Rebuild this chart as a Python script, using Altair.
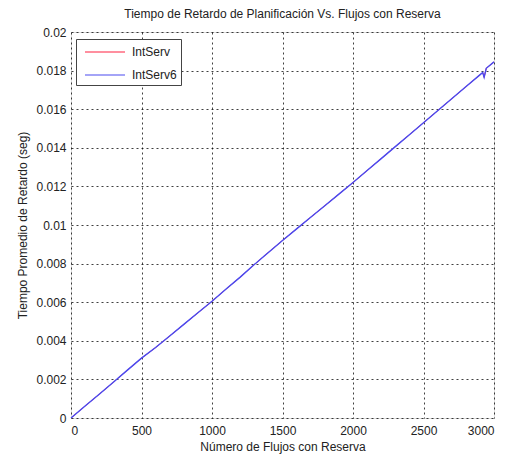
import altair as alt
import pandas as pd

flows = [0, 100, 200, 300, 400, 500, 600, 700, 800, 900, 1000,
         1100, 1200, 1300, 1400, 1500, 1600, 1700, 1800, 1900, 2000,
         2100, 2200, 2300, 2400, 2500, 2600, 2700, 2800, 2900, 2920,
         2930, 2945, 3000]
delay_intserv = [0.0, 0.00062, 0.00123, 0.00185, 0.00248, 0.00310, 0.00365,
                 0.00425, 0.00485, 0.00545, 0.00605, 0.00668, 0.00730,
                 0.00795, 0.00858, 0.00920, 0.00980, 0.01040, 0.01100,
                 0.01160, 0.01220, 0.01282, 0.01344, 0.01406, 0.01468,
                 0.01530, 0.01592, 0.01654, 0.01716, 0.01778, 0.01790,
                 0.01765, 0.01812, 0.01845]
delay_intserv6 = list(delay_intserv)
series_names = ["IntServ", "IntServ6"]
series_colors = ["#ff2040", "#4a4af0"]
series_widths = [1.0, 1.4]

rows = []
for name, vals, w in zip(series_names, [delay_intserv, delay_intserv6], series_widths):
    for f, v in zip(flows, vals):
        rows.append({"Flujos": f, "Retardo": v, "Serie": name, "w": w})
df = pd.DataFrame(rows)

FONT = "Liberation Sans"
TXT = "#222222"

common_axis = dict(grid=True, gridColor="#000000", gridDash=[2, 3],
                   gridOpacity=0.75, gridWidth=1, ticks=False, domain=False,
                   labelFont=FONT, labelFontSize=12, labelColor=TXT,
                   titleFont=FONT, titleFontSize=12, titleFontWeight="normal",
                   titleColor=TXT)

chart = alt.Chart(df).mark_line().encode(
    x=alt.X("Flujos:Q",
            scale=alt.Scale(domain=[0, 3000], nice=False),
            axis=alt.Axis(title="Número de Flujos con Reserva",
                          values=[0, 500, 1000, 1500, 2000, 2500, 3000],
                          format="d", labelPadding=7, titlePadding=5,
                          **common_axis)),
    y=alt.Y("Retardo:Q",
            scale=alt.Scale(domain=[0, 0.02], nice=False),
            axis=alt.Axis(title="Tiempo Promedio de Retardo (seg)",
                          values=[0, 0.002, 0.004, 0.006, 0.008, 0.01,
                                  0.012, 0.014, 0.016, 0.018, 0.02],
                          format="~g", labelPadding=5, titlePadding=6,
                          **common_axis)),
    color=alt.Color("Serie:N",
                    scale=alt.Scale(domain=series_names, range=series_colors),
                    legend=alt.Legend(title=None, orient="none",
                                      legendX=5, legendY=7,
                                      symbolType="M-0.5,0H4.5",
                                      symbolSize=256, symbolStrokeWidth=1.2,
                                      labelOffset=34, rowPadding=8,
                                      padding=4, fillColor="white",
                                      strokeColor="#444444",
                                      labelFont=FONT, labelFontSize=12,
                                      labelColor=TXT)),
    strokeWidth=alt.StrokeWidth("w:Q", scale=None, legend=None),
    order=alt.Order("Serie:N"),
).properties(
    width=423,
    height=386,
    title=alt.TitleParams("Tiempo de Retardo de Planificación Vs. Flujos con Reserva",
                          font=FONT, fontSize=12, fontWeight="normal",
                          color=TXT, anchor="middle", offset=5),
    autosize=alt.AutoSizeParams(type="none"),
    padding={"left": 63, "top": 24, "right": 16, "bottom": 43},
).configure_view(
    stroke="#333333", strokeWidth=1
).configure(background="white")

chart.save("out.html", embed_options={"renderer": "svg", "actions": False})
